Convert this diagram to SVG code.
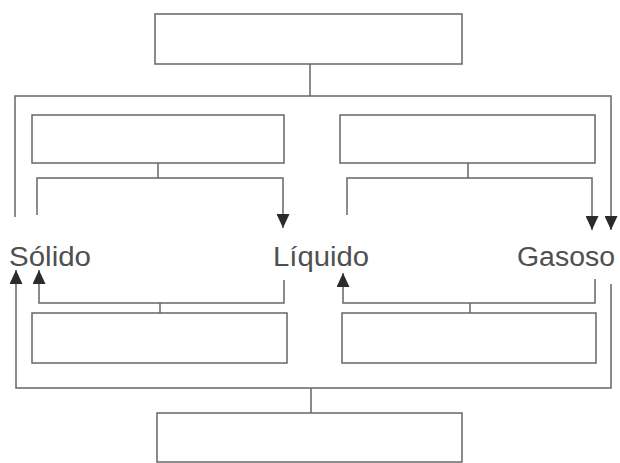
<svg xmlns="http://www.w3.org/2000/svg" width="620" height="463" viewBox="0 0 620 463">
<defs>
<style>
.box{fill:#fff;stroke:#666;stroke-width:1.5}
.ln{fill:none;stroke:#666;stroke-width:1.5}
.lbl{font-family:"Liberation Sans",Arial,sans-serif;font-size:27px;fill:#505050}
</style>
<marker id="ah" markerUnits="userSpaceOnUse" markerWidth="14" markerHeight="13" viewBox="0 0 14 13" refX="14" refY="6.5" orient="auto">
<path d="M0,0 L14,6.5 L0,13 Z" fill="#2e2a2a"/>
</marker>
</defs>
<rect width="620" height="463" fill="#fff"/>
<g id="connectors">
<path class="ln" d="M310,64 V96"/>
<path class="ln" d="M15,217 V96 H611 V230" marker-end="url(#ah)"/>
<path class="ln" d="M158,163 V178"/>
<path class="ln" d="M37,215 V178 H283 V228" marker-end="url(#ah)"/>
<path class="ln" d="M468,163 V178"/>
<path class="ln" d="M347,215 V178 H592 V230" marker-end="url(#ah)"/>
<path class="ln" d="M160,303 V313"/>
<path class="ln" d="M284,280 V303 H39 V270" marker-end="url(#ah)"/>
<path class="ln" d="M470,303 V313"/>
<path class="ln" d="M595,279 V303 H343 V273" marker-end="url(#ah)"/>
<path class="ln" d="M611,284 V388 H16 V270" marker-end="url(#ah)"/>
<path class="ln" d="M311,388 V413"/>
</g>
<g id="top"><rect class="box" x="155" y="14" width="307" height="50"/></g>
<g id="upper-left"><rect class="box" x="32" y="115" width="252" height="48"/></g>
<g id="upper-right"><rect class="box" x="340" y="115" width="255" height="48"/></g>
<g id="lower-left"><rect class="box" x="32" y="313" width="255" height="50"/></g>
<g id="lower-right"><rect class="box" x="342" y="313" width="254" height="50"/></g>
<g id="bottom"><rect class="box" x="157" y="413" width="305" height="49"/></g>
<g id="solido"><text class="lbl" x="9" y="266" textLength="82" lengthAdjust="spacingAndGlyphs">Sólido</text></g>
<g id="liquido"><text class="lbl" x="273" y="266" textLength="96" lengthAdjust="spacingAndGlyphs">Líquido</text></g>
<g id="gasoso"><text class="lbl" x="517" y="266" textLength="98" lengthAdjust="spacingAndGlyphs">Gasoso</text></g>
</svg>
